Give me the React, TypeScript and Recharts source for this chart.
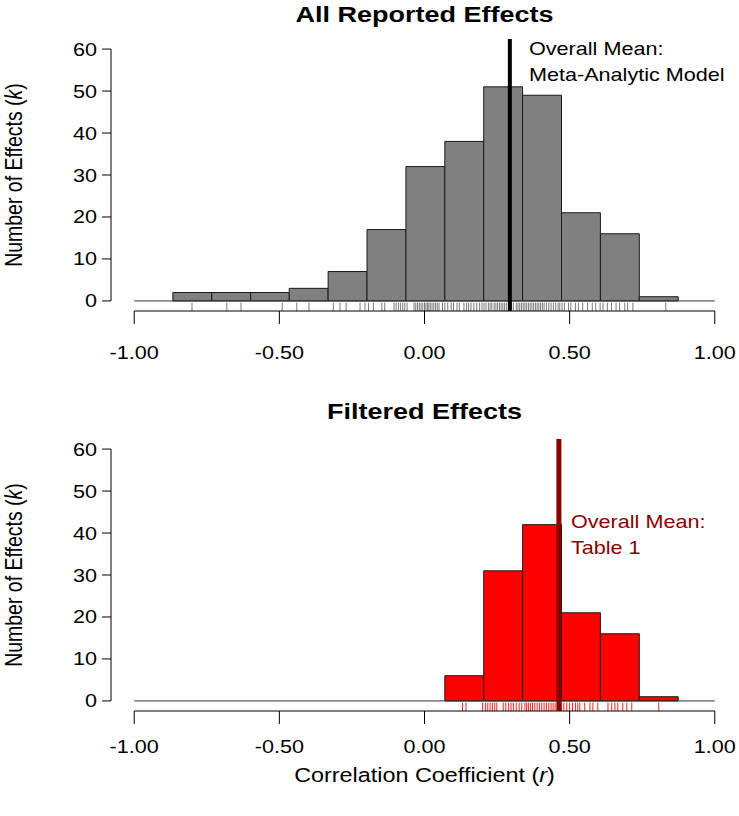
import React from "react";
import { ComposedChart, XAxis, YAxis, Scatter, ReferenceArea, ReferenceLine } from "recharts";

// histogram bin edges (correlation r) shared by both panels
const binEdges = [-0.867, -0.733, -0.599, -0.466, -0.332, -0.198, -0.064, 0.070, 0.204, 0.338, 0.472, 0.606, 0.740, 0.874];
const allCounts = [2, 2, 2, 3, 7, 17, 32, 38, 51, 49, 21, 16, 1];
const filteredCounts = [0, 0, 0, 0, 0, 0, 0, 6, 31, 42, 21, 16, 1];

// individual effects (rug marks)
const allRug = [
  -0.801, -0.681, -0.632, -0.49, -0.44, -0.398, -0.314, -0.291, -0.27, -0.222, -0.205, -0.193, -0.176,
  -0.147, -0.137, -0.105, -0.098, -0.09, -0.083, -0.075, -0.068, -0.06, -0.036, -0.03, -0.024, -0.018,
  -0.012, -0.006, 0.0, 0.005, 0.01, 0.015, 0.02, 0.026, 0.032, 0.038, 0.044, 0.05, 0.062, 0.07, 0.08,
  0.092, 0.1, 0.112, 0.12, 0.136, 0.145, 0.152, 0.16, 0.17, 0.18, 0.19, 0.198, 0.205, 0.212, 0.22,
  0.226, 0.232, 0.24, 0.246, 0.252, 0.258, 0.264, 0.27, 0.276, 0.282, 0.29, 0.3, 0.306, 0.316, 0.322,
  0.328, 0.334, 0.34, 0.346, 0.352, 0.358, 0.364, 0.37, 0.376, 0.382, 0.388, 0.394, 0.4, 0.406, 0.412,
  0.42, 0.428, 0.436, 0.444, 0.452, 0.46, 0.466, 0.474, 0.482, 0.496, 0.504, 0.52, 0.53, 0.545, 0.562,
  0.578, 0.59, 0.605, 0.615, 0.63, 0.644, 0.66, 0.672, 0.69, 0.7, 0.718, 0.831,
];
const filteredRug = [
  0.131, 0.143, 0.2, 0.21, 0.218, 0.226, 0.234, 0.242, 0.249, 0.271, 0.28, 0.29, 0.298, 0.306, 0.316,
  0.326, 0.335, 0.346, 0.352, 0.358, 0.365, 0.372, 0.38, 0.388, 0.396, 0.404, 0.412, 0.42, 0.428, 0.436,
  0.443, 0.45, 0.458, 0.472, 0.48, 0.49, 0.5, 0.51, 0.52, 0.528, 0.535, 0.552, 0.57, 0.58, 0.597, 0.632,
  0.645, 0.656, 0.666, 0.683, 0.697, 0.714, 0.807,
];

const allMean = 0.294;
const filteredMean = 0.463;

const xTicks = [-1, -0.5, 0, 0.5, 1];
const yTicks = [0, 10, 20, 30, 40, 50, 60];

const FONT = "'Liberation Sans', Arial, sans-serif";
const X_DOMAIN = [-1.08, 1.08];
const Y_DOMAIN = [-2.4, 62.4];

const XTick = (props: any) => {
  const { x, y, payload, dy } = props;
  return (
    <g transform={`translate(${x},${y + dy}) scale(1.2,1)`}>
      <text x={0} y={0} textAnchor="middle" fontSize={18} fontFamily={FONT} fill="#000">
        {payload.value.toFixed(2)}
      </text>
    </g>
  );
};

const YTick = (props: any) => {
  const { x, y, payload } = props;
  return (
    <g transform={`translate(${x - 3},${y + 6.5}) scale(1.2,1)`}>
      <text x={0} y={0} textAnchor="end" fontSize={18} fontFamily={FONT} fill="#000">
        {payload.value}
      </text>
    </g>
  );
};

interface PanelProps {
  counts: number[];
  rug: number[];
  mean: number;
  barFill: string;
  rugColor: string;
  meanColor: string;
  meanWidth: number;
  height: number;
  labelDy: number;
}

function Panel({ counts, rug, mean, barFill, rugColor, meanColor, meanWidth, height, labelDy }: PanelProps) {
  const rows = counts.map((c, i) => ({ x: (binEdges[i] + binEdges[i + 1]) / 2, count: c }));
  return (
    <ComposedChart
      width={739}
      height={height}
      data={rows}
      margin={{ top: 39, right: 1, bottom: height - 400, left: 0 }}
    >
      <XAxis
        type="number"
        dataKey="x"
        domain={X_DOMAIN}
        ticks={xTicks}
        interval={0}
        allowDataOverflow
        axisLine={false}
        tickLine={{ stroke: "#000", strokeWidth: 1 }}
        tickSize={13}
        height={89}
        tick={<XTick dy={labelDy} />}
      />
      <YAxis
        type="number"
        domain={Y_DOMAIN}
        ticks={yTicks}
        interval={0}
        allowDataOverflow
        axisLine={false}
        tickLine={{ stroke: "#000", strokeWidth: 1 }}
        tickSize={9}
        width={111}
        tick={<YTick />}
      />
      <Scatter dataKey="count" isAnimationActive={false} shape={() => <g />} />
      {counts.map((c, i) =>
        c > 0 ? (
          <ReferenceArea
            key={`b${i}`}
            x1={binEdges[i]}
            x2={binEdges[i + 1]}
            y1={0}
            y2={c}
            fill={barFill}
            fillOpacity={1}
            stroke="#1a1a1a"
            strokeWidth={1}
            ifOverflow="visible"
          />
        ) : null
      )}
      <ReferenceLine
        segment={[{ x: -1, y: 0 }, { x: 1, y: 0 }]}
        stroke="#333"
        strokeWidth={1}
        ifOverflow="visible"
      />
      {rug.map((v, i) => (
        <ReferenceLine
          key={`r${i}`}
          segment={[{ x: v, y: -2.4 }, { x: v, y: -0.4 }]}
          stroke={rugColor}
          strokeWidth={1}
          ifOverflow="visible"
        />
      ))}
      <ReferenceLine
        segment={[{ x: -1, y: -2.4 }, { x: 1, y: -2.4 }]}
        stroke="#000"
        strokeWidth={1}
        ifOverflow="visible"
      />
      <ReferenceLine
        segment={[{ x: -1.08, y: 0 }, { x: -1.08, y: 60 }]}
        stroke="#000"
        strokeWidth={1}
        ifOverflow="visible"
      />
      <ReferenceLine
        segment={[{ x: mean, y: -2.4 }, { x: mean, y: 62.4 }]}
        stroke={meanColor}
        strokeWidth={meanWidth}
        ifOverflow="visible"
      />
    </ComposedChart>
  );
}

const txt = (x: number, y: number, content: React.ReactNode, opts: any = {}) => (
  <g transform={`translate(${x},${y}) scale(1.2,1)${opts.rotate ? " rotate(-90)" : ""}`}>
    <text
      x={0}
      y={0}
      textAnchor={opts.anchor || "middle"}
      fontSize={opts.size || 18}
      fontWeight={opts.bold ? "bold" : "normal"}
      fontFamily={FONT}
      fill={opts.color || "#000"}
    >
      {content}
    </text>
  </g>
);

export default function App() {
  return (
    <div style={{ position: "absolute", left: 0, top: 0, width: 739, height: 816, background: "#fff" }}>
      <div style={{ position: "absolute", left: 0, top: 0 }}>
        <Panel
          counts={allCounts}
          rug={allRug}
          mean={allMean}
          barFill="#808080"
          rugColor="#7a7a7a"
          meanColor="#000"
          meanWidth={4}
          height={400}
          labelDy={33}
        />
      </div>
      <div style={{ position: "absolute", left: 0, top: 400 }}>
        <Panel
          counts={filteredCounts}
          rug={filteredRug}
          mean={filteredMean}
          barFill="#ff0000"
          rugColor="#ff2020"
          meanColor="#8b0000"
          meanWidth={5}
          height={416}
          labelDy={27}
        />
      </div>
      <svg
        width={739}
        height={816}
        style={{ position: "absolute", left: 0, top: 0, pointerEvents: "none" }}
      >
        {txt(424.5, 22, "All Reported Effects", { bold: true, size: 22.5 })}
        {txt(424.5, 419, "Filtered Effects", { bold: true, size: 22.5 })}
        {txt(22, 175, <>Number of Effects (<tspan fontStyle="italic">k</tspan>)</>, { rotate: true, size: 19.5 })}
        {txt(22, 575, <>Number of Effects (<tspan fontStyle="italic">k</tspan>)</>, { rotate: true, size: 19.5 })}
        {txt(424.5, 782, <>Correlation Coefficient (<tspan fontStyle="italic">r</tspan>)</>, { size: 19.5 })}
        {txt(529, 54.5, "Overall Mean:", { anchor: "start" })}
        {txt(529, 80.5, "Meta-Analytic Model", { anchor: "start" })}
        {txt(571, 527.5, "Overall Mean:", { anchor: "start", color: "#8b0000" })}
        {txt(571, 553.5, "Table 1", { anchor: "start", color: "#8b0000" })}
      </svg>
    </div>
  );
}
